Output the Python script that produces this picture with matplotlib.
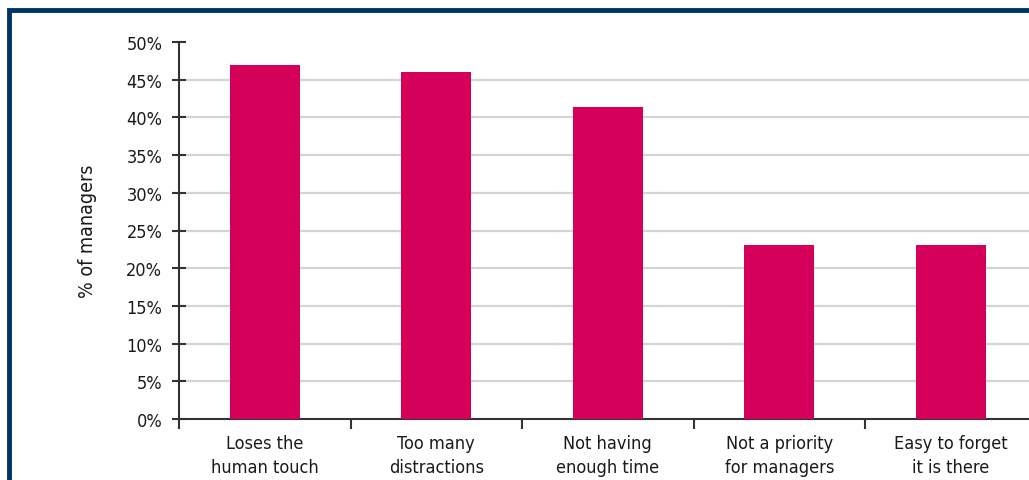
import numpy as np
import matplotlib.pyplot as plt
from matplotlib.patches import Rectangle
from matplotlib import font_manager

categories = ["Loses the\nhuman touch", "Too many\ndistractions", "Not having\nenough time",
              "Not a priority\nfor managers", "Easy to forget\nit is there"]
values = [47, 46, 41.4, 23.1, 23.1]
yticks = [0, 5, 10, 15, 20, 25, 30, 35, 40, 45, 50]

names = {f.name for f in font_manager.fontManager.ttflist}
fam = "Liberation Sans Narrow" if "Liberation Sans Narrow" in names else "DejaVu Sans"
plt.rcParams['font.family'] = [fam, 'DejaVu Sans']
plt.rcParams['font.stretch'] = 'condensed'

W, H = 1029, 481
fig = plt.figure(figsize=(W / 100, H / 100), dpi=100)

# axes in pixel terms: left 179, right ~1036, top 43, bottom 420
left, right, top, bottom = 179, 1036.5, 43, 420
ax = fig.add_axes([left / W, 1 - bottom / H, (right - left) / W, (bottom - top) / H])

x = np.arange(len(categories))
ax.bar(x, values, width=0.41, color="#D5005A", zorder=3)

ax.set_xlim(-0.5, len(categories) - 0.5)
ax.set_ylim(0, 50)
ax.set_yticks(yticks)
ax.set_yticklabels([f"{v}%" for v in yticks], fontsize=13, color="#1a1a1a")
for v in yticks[1:-1]:
    ax.axhline(v, color="#d4d4d4", linewidth=1.6, zorder=1)

ax.set_xticks(np.arange(len(categories) + 1) - 0.5)
ax.set_xticklabels([])
ax.set_xticks(x, minor=True)
ax.set_xticklabels(categories, minor=True, fontsize=13, color="#1a1a1a", linespacing=1.45)
ax.tick_params(axis="x", which="major", direction="out", length=7, width=1.5, color="#333333")
ax.tick_params(axis="x", which="minor", length=0, pad=10.5)
ax.tick_params(axis="y", direction="inout", length=10, width=1.5, color="#333333", pad=7)

for s in ["top", "right"]:
    ax.spines[s].set_visible(False)
for s in ["left", "bottom"]:
    ax.spines[s].set_color("#333333")
    ax.spines[s].set_linewidth(1.5)

ax.set_ylabel("% of managers", fontsize=14, color="#1a1a1a", labelpad=21)

# dark blue frame, cut off at right and bottom
fig.patches.append(Rectangle((9 / W, -0.1), 1.2, 1 - 11 / H + 0.1, transform=fig.transFigure,
                             fill=False, edgecolor="#003366", linewidth=3.5, zorder=10))

fig.savefig("out.png", dpi=100)
